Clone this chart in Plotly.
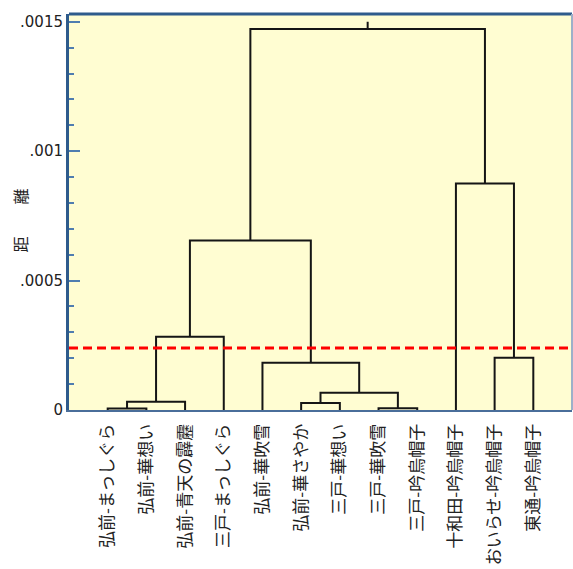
import plotly.graph_objects as go

# Leaf labels in dendrogram order
labels = [
    "弘前-まっしぐら", "弘前-華想い", "弘前-青天の霹靂", "三戸-まっしぐら",
    "弘前-華吹雪", "弘前-華さやか", "三戸-華想い", "三戸-華吹雪",
    "三戸-吟烏帽子", "十和田-吟烏帽子", "おいらせ-吟烏帽子", "東通-吟烏帽子",
]

# Linkage: cluster ids 0..11 are leaves, each merge creates id 12, 13, ...
merge_left = [0, 7, 5, 12, 14, 4, 10, 15, 19, 9, 20]
merge_right = [1, 8, 6, 2, 13, 16, 11, 3, 17, 18, 21]
merge_height = [0.000006, 0.000007, 0.000027, 0.000032, 0.000067, 0.000183,
                0.000202, 0.000283, 0.000655, 0.000875, 0.001472]
root_top = 0.00150

# Cut-off distance
threshold = 0.00024

# Y axis ticks
y_tickvals = [0, 0.0005, 0.001, 0.0015]
y_ticktext = ["0", ".0005", ".001", ".0015"]

# Build dendrogram segments
pos = {i: (i + 1, 0.0) for i in range(len(labels))}
xs, ys = [], []
for k, (a, b, h) in enumerate(zip(merge_left, merge_right, merge_height)):
    xa, ha = pos[a]
    xb, hb = pos[b]
    xs += [xa, xa, xb, xb, None]
    ys += [ha, h, h, hb, None]
    pos[len(labels) + k] = ((xa + xb) / 2, h)
root_x, root_h = pos[len(labels) + len(merge_height) - 1]
xs += [root_x, root_x, None]
ys += [root_h, root_top, None]

fig = go.Figure()
fig.add_trace(go.Scatter(
    x=xs, y=ys, mode="lines",
    line=dict(color="#151515", width=2),
    hoverinfo="skip", showlegend=False,
))

# Threshold line
fig.add_shape(type="line", xref="paper", yref="y", x0=0, x1=1,
              y0=threshold, y1=threshold,
              line=dict(color="#FF0000", width=3, dash="9px,5px"))

# Top and right frame
fig.add_shape(type="line", xref="paper", yref="paper", x0=0, x1=1, y0=1, y1=1,
              line=dict(color="#2E5B8C", width=3))
fig.add_shape(type="line", xref="paper", yref="paper", x0=1, x1=1, y0=0, y1=1,
              line=dict(color="#9DB0C9", width=2))

# Vertical axis caption
fig.add_annotation(text="距\u3000\u3000離", xref="paper", yref="paper",
                   x=-0.098, y=0.478, xanchor="center", yanchor="middle",
                   showarrow=False, textangle=-90,
                   font=dict(family="Noto Sans CJK JP", size=16, color="#222222"))

fig.update_layout(
    width=573, height=569,
    margin=dict(l=69, r=1, t=14, b=159),
    paper_bgcolor="white",
    plot_bgcolor="#FFFDD2",
    showlegend=False,
)
fig.update_xaxes(
    range=[0, 13],
    tickvals=list(range(1, len(labels) + 1)),
    ticktext=labels,
    tickangle=-90,
    ticks="",
    showgrid=False, zeroline=False,
    showline=True, linecolor="#4A6E9A", linewidth=2,
    tickfont=dict(family="Noto Sans CJK JP", size=17, color="#222222"),
    ticklabelstandoff=5,
)
fig.update_yaxes(
    range=[0, 0.00153],
    tickvals=y_tickvals,
    ticktext=y_ticktext,
    ticks="inside", ticklen=11, tickwidth=2, tickcolor="#4F7DB0",
    minor=dict(dtick=0.0001, ticks="inside", ticklen=5, tickwidth=2,
               tickcolor="#4F7DB0", showgrid=False),
    showgrid=False, zeroline=False,
    showline=True, linecolor="#2E5B8C", linewidth=3,
    tickfont=dict(family="DejaVu Sans", size=15, color="#222222"),
)

fig.write_html("out.html")
